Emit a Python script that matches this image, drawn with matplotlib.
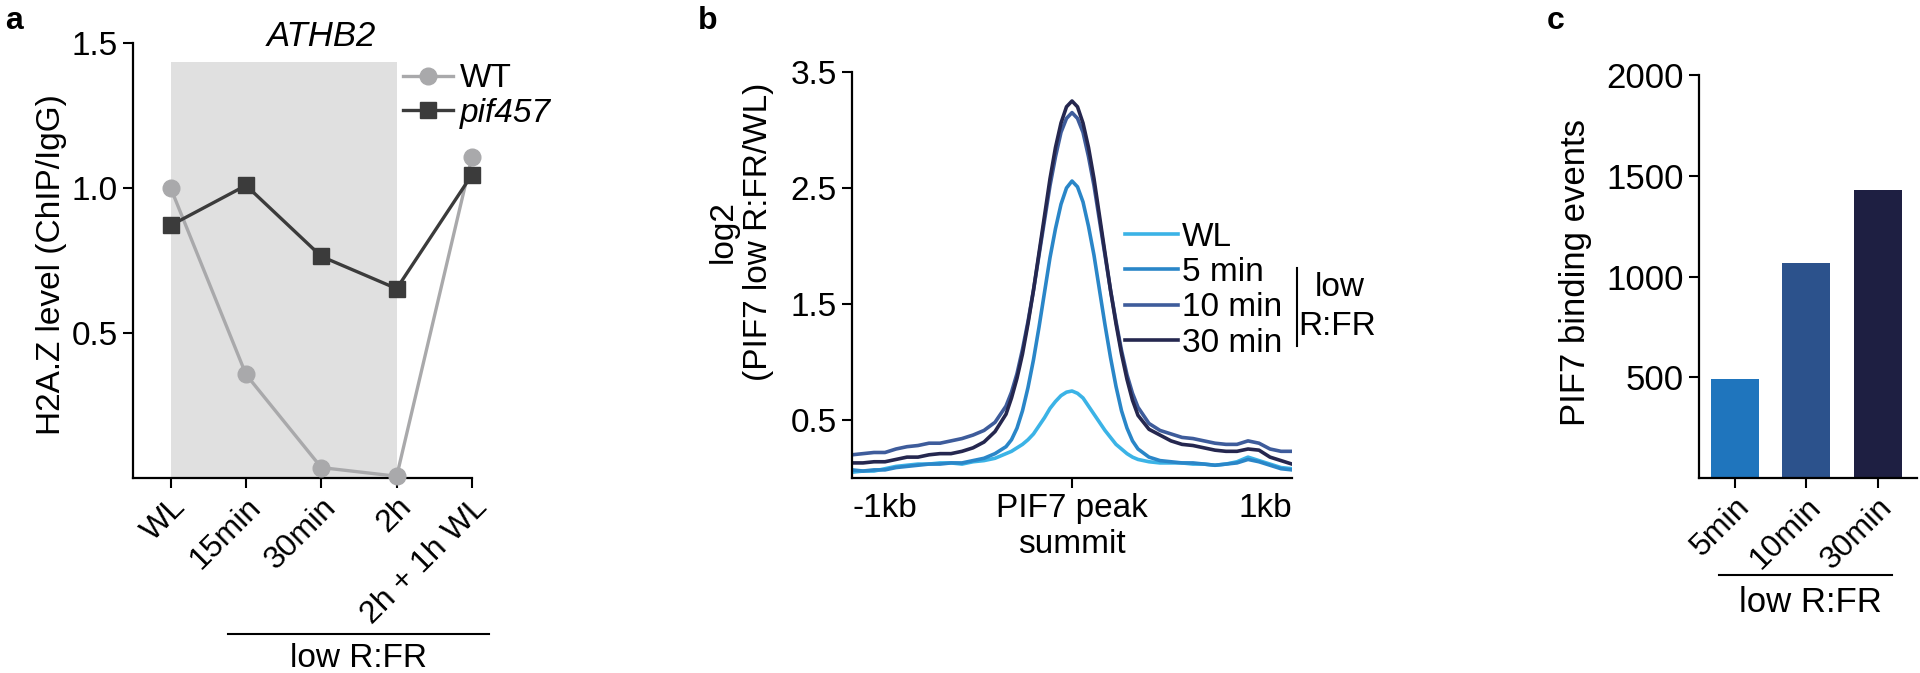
import numpy as np
import matplotlib
matplotlib.use("Agg")
import matplotlib.pyplot as plt
from matplotlib.lines import Line2D

plt.rcParams['font.family'] = ['Liberation Sans', 'DejaVu Sans']
plt.rcParams['font.size'] = 24
plt.rcParams['axes.linewidth'] = 1.6

# ---- panel a: H2A.Z at ATHB2
conditions = ['WL', '15min', '30min', '2h', '2h + 1h WL']
wt = [1.0, 0.357, 0.036, 0.006, 1.108]
pif457 = [0.871, 1.009, 0.764, 0.653, 1.046]
shade_top = 1.434

# ---- panel b: PIF7 profile around peak summit (bp)
pos_bp = [-1000, -950, -900, -850, -800, -750, -700, -650, -600, -550, -500, -450, -400, -350,
          -300, -275, -250, -225, -200, -175, -150, -125, -100, -75, -50, -25, 0,
          25, 50, 75, 100, 125, 150, 175, 200, 225, 250, 275, 300,
          350, 400, 450, 500, 550, 600, 650, 700, 750, 800, 850, 900, 950, 1000]
prof_wl = [0.05, 0.06, 0.06, 0.08, 0.10, 0.11, 0.12, 0.12, 0.13, 0.13, 0.12, 0.14, 0.15, 0.17,
           0.21, 0.23, 0.26, 0.29, 0.33, 0.38, 0.45, 0.52, 0.60, 0.66, 0.71, 0.74, 0.75,
           0.73, 0.69, 0.62, 0.55, 0.48, 0.41, 0.35, 0.29, 0.25, 0.21, 0.18, 0.16,
           0.14, 0.13, 0.13, 0.13, 0.12, 0.12, 0.11, 0.12, 0.14, 0.18, 0.15, 0.12, 0.09, 0.08]
prof_5 = [0.07, 0.06, 0.07, 0.07, 0.09, 0.10, 0.11, 0.12, 0.12, 0.13, 0.13, 0.15, 0.17, 0.21,
          0.27, 0.33, 0.43, 0.58, 0.78, 1.02, 1.30, 1.60, 1.90, 2.15, 2.36, 2.50, 2.56,
          2.51, 2.38, 2.17, 1.92, 1.62, 1.32, 1.04, 0.79, 0.58, 0.43, 0.32, 0.25,
          0.18, 0.15, 0.14, 0.13, 0.13, 0.12, 0.11, 0.12, 0.13, 0.16, 0.14, 0.11, 0.08, 0.07]
prof_10 = [0.20, 0.21, 0.22, 0.22, 0.25, 0.27, 0.28, 0.30, 0.30, 0.32, 0.34, 0.37, 0.41, 0.48,
           0.62, 0.74, 0.90, 1.11, 1.35, 1.62, 1.92, 2.22, 2.52, 2.77, 2.98, 3.10, 3.15,
           3.10, 2.98, 2.77, 2.52, 2.22, 1.92, 1.62, 1.35, 1.10, 0.89, 0.73, 0.61,
           0.47, 0.41, 0.38, 0.35, 0.34, 0.32, 0.30, 0.29, 0.29, 0.32, 0.30, 0.25, 0.23, 0.23]
prof_30 = [0.13, 0.13, 0.14, 0.14, 0.16, 0.18, 0.18, 0.20, 0.21, 0.21, 0.23, 0.26, 0.31, 0.40,
           0.55, 0.69, 0.86, 1.07, 1.33, 1.62, 1.94, 2.26, 2.58, 2.85, 3.06, 3.20, 3.25,
           3.20, 3.06, 2.85, 2.58, 2.26, 1.94, 1.62, 1.33, 1.07, 0.85, 0.67, 0.54,
           0.42, 0.37, 0.32, 0.29, 0.28, 0.26, 0.24, 0.23, 0.23, 0.25, 0.24, 0.18, 0.15, 0.12]
prof_labels = ['WL', '5 min', '10 min', '30 min']
prof_colors = ['#3bb3e6', '#2a86c8', '#3e5c9b', '#25274f']

# ---- panel c: number of PIF7 binding events
times = ['5min', '10min', '30min']
events = [490, 1065, 1430]
bar_colors = ['#1f75bd', '#2c528c', '#1e1f42']

W, H = 1920, 673
fig = plt.figure(figsize=(19.2, 6.73), dpi=100)


def px_axes(l, t, r, b):
    return fig.add_axes([l / W, 1 - b / H, (r - l) / W, (b - t) / H])


def fx(x):
    return x / W


def fy(y):
    return 1 - y / H


def style(ax, size=24):
    ax.spines['top'].set_visible(False)
    ax.spines['right'].set_visible(False)
    ax.tick_params(length=7, width=1.5, pad=4, labelsize=size)


# a
ax1 = px_axes(133, 43, 472, 478)
style(ax1)
xa = np.arange(len(conditions))
ax1.axvspan(0, 3, ymax=shade_top / 1.5, color='#e0e0e0', lw=0, zorder=0)
ax1.plot(xa, wt, '-o', color='#a9a9ab', lw=2.4, ms=12, label='WT', clip_on=False, zorder=3)
ax1.plot(xa, pif457, '-s', color='#3b3b3b', lw=2.4, ms=12, label='pif457', clip_on=False, zorder=4)
ax1.set_xlim(-0.5, 4.0)
ax1.set_ylim(0, 1.5)
ax1.set_yticks([0.5, 1.0, 1.5])
ax1.set_xticks(xa)
ax1.set_xticklabels(conditions, rotation=45, ha='right', rotation_mode='anchor', fontsize=23)
ax1.tick_params(axis='x', pad=3)
ax1.text(2.0, 1.524, 'ATHB2', style='italic', ha='center', va='center', fontsize=25)
leg = ax1.legend(loc='center left', bbox_to_anchor=(fx(403), fy(96)), bbox_transform=fig.transFigure,
                 frameon=False, handlelength=1.5, handletextpad=0.2, labelspacing=0.1,
                 borderpad=0, borderaxespad=0, fontsize=24)
leg.get_texts()[1].set_style('italic')
fig.text(fx(52), fy(265), 'H2A.Z level (ChIP/IgG)', rotation=90, ha='center', va='center', fontsize=24)
fig.add_artist(Line2D([fx(228), fx(489)], [fy(634), fy(634)], color='black', lw=1.5))
fig.text(fx(358), fy(643), 'low R:FR', ha='center', va='top', fontsize=24)

# b
ax2 = px_axes(852, 72, 1292, 478)
style(ax2)
for prof, lab, col in zip([prof_wl, prof_5, prof_10, prof_30], prof_labels, prof_colors):
    ax2.plot(pos_bp, prof, color=col, lw=2.6, label=lab)
ax2.set_xlim(-1000, 1000)
ax2.set_ylim(0, 3.5)
ax2.set_yticks([0.5, 1.5, 2.5, 3.5])
ax2.set_xticks([-1000, 0, 1000])
ax2.set_xticklabels(['-1kb', 'PIF7 peak\nsummit', '1kb'])
xt = ax2.get_xticklabels()
xt[0].set_ha('left')
xt[2].set_ha('right')
for t in ax2.xaxis.get_major_ticks()[::2]:
    t.tick1line.set_visible(False)
ax2.legend(loc='center left', bbox_to_anchor=(fx(1125), fy(290)), bbox_transform=fig.transFigure,
           frameon=False, handlelength=1.6, handletextpad=0.12, labelspacing=0.13,
           borderpad=0, borderaxespad=0, fontsize=24)
fig.add_artist(Line2D([fx(1297), fx(1297)], [fy(268), fy(346)], color='black', lw=1.5))
fig.text(fx(1340), fy(287), 'low', ha='center', va='center', fontsize=24)
fig.text(fx(1337), fy(326), 'R:FR', ha='center', va='center', fontsize=24)
fig.text(fx(741), fy(232), 'log2\n(PIF7 low R:FR/WL)', rotation=90, ha='center', va='center',
         multialignment='center', fontsize=24)

# c
ax3 = px_axes(1699, 75, 1917, 478)
style(ax3, 25)
xc = np.arange(len(times))
ax3.bar(xc, events, width=0.67, color=bar_colors)
ax3.set_xlim(-0.5, 2.55)
ax3.set_ylim(0, 2000)
ax3.set_yticks([500, 1000, 1500, 2000])
ax3.set_xticks(xc)
ax3.set_xticklabels(times, rotation=45, ha='right', rotation_mode='anchor', fontsize=23)
ax3.tick_params(axis='x', pad=3)
fig.text(fx(1575), fy(273), 'PIF7 binding events', rotation=90, ha='center', va='center', fontsize=25)
fig.add_artist(Line2D([fx(1719), fx(1892)], [fy(575), fy(575)], color='black', lw=1.5))
fig.text(fx(1810), fy(586), 'low R:FR', ha='center', va='top', fontsize=25)

# panel letters
for lx, letter in [(5, 'a'), (698, 'b'), (1547, 'c')]:
    fig.text(fx(lx), fy(29), letter, fontweight='bold', fontsize=23, ha='left', va='baseline')

fig.savefig('out.png', dpi=100)
